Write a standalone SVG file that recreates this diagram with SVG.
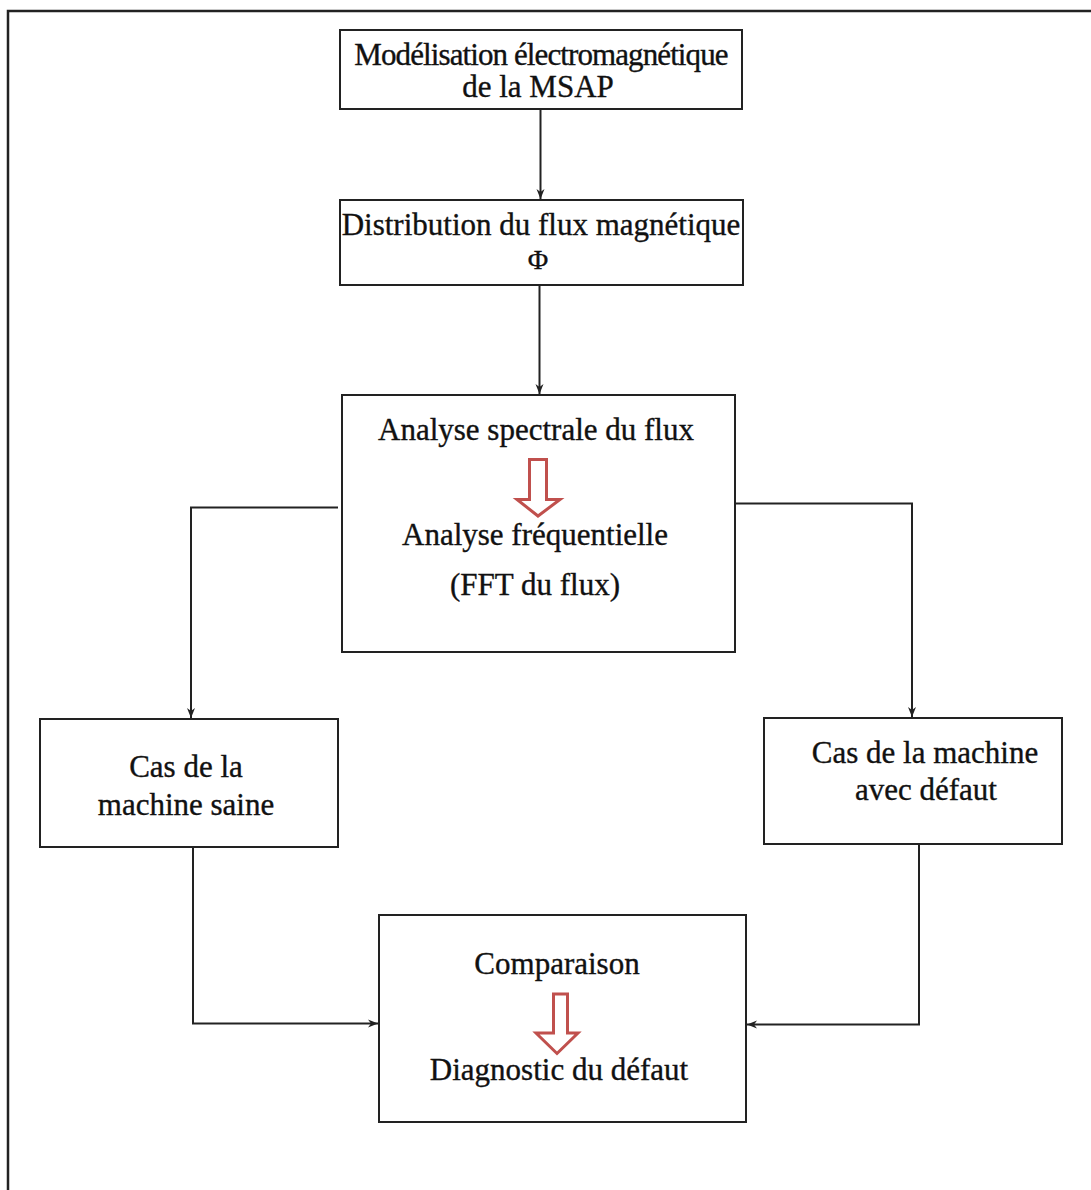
<svg xmlns="http://www.w3.org/2000/svg" width="1091" height="1190" viewBox="0 0 1091 1190">
  <style>
    .box { fill: #ffffff; stroke: #222222; stroke-width: 2; }
    .txt { font-family: "Liberation Serif", "Times New Roman", serif; font-size: 31px; fill: #111111; stroke: #111111; stroke-width: 0.35; text-anchor: middle; }
    .conn { fill: none; stroke: #222222; stroke-width: 2; }
    .red { fill: #ffffff; stroke: #C0504D; stroke-width: 3; stroke-linejoin: miter; }
  </style>
  <defs>
    <marker id="arr" viewBox="0 0 10 10" refX="10" refY="5" markerWidth="10" markerHeight="10" markerUnits="userSpaceOnUse" orient="auto">
      <path d="M0,1 L10,5 L0,9 L3,5 Z" fill="#222222"/>
    </marker>
  </defs>
  <rect width="1091" height="1190" fill="#ffffff"/>
  <rect id="frame" x="8" y="11" width="1100" height="1200" fill="none" stroke="#222222" stroke-width="2.5"/>

  <g id="connectors">
    <line class="conn" x1="540.5" y1="109" x2="540.5" y2="199" marker-end="url(#arr)"/>
    <line class="conn" x1="539.5" y1="285" x2="539.5" y2="394" marker-end="url(#arr)"/>
    <polyline class="conn" points="338,507.5 191,507.5 191,718" marker-end="url(#arr)"/>
    <polyline class="conn" points="735,503.5 912,503.5 912,717" marker-end="url(#arr)"/>
    <polyline class="conn" points="193,847 193,1023.5 378,1023.5" marker-end="url(#arr)"/>
    <polyline class="conn" points="919,844 919,1024.5 747,1024.5" marker-end="url(#arr)"/>
  </g>

  <g id="node-modelisation">
    <rect class="box" x="340" y="30" width="402" height="79"/>
    <text class="txt" x="541" y="65" letter-spacing="-0.9">Modélisation électromagnétique</text>
    <text class="txt" x="538" y="97">de la MSAP</text>
  </g>

  <g id="node-distribution">
    <rect class="box" x="340" y="200" width="403" height="85"/>
    <text class="txt" x="541" y="235">Distribution du flux magnétique</text>
    <text class="txt" x="538" y="269" style="font-size:28px">Φ</text>
  </g>

  <g id="node-analyse">
    <rect class="box" x="342" y="395" width="393" height="257"/>
    <text class="txt" x="536" y="440">Analyse spectrale du flux</text>
    <polygon class="red" points="529.5,459.5 546.5,459.5 546.5,499.5 560,499.5 538,516 517,499.5 529.5,499.5"/>
    <text class="txt" x="535" y="545">Analyse fréquentielle</text>
    <text class="txt" x="535" y="595">(FFT du flux)</text>
  </g>

  <g id="node-saine">
    <rect class="box" x="40" y="719" width="298" height="128"/>
    <text class="txt" x="186" y="777">Cas de la</text>
    <text class="txt" x="186" y="815">machine saine</text>
  </g>

  <g id="node-defaut">
    <rect class="box" x="764" y="718" width="298" height="126"/>
    <text class="txt" x="925" y="763">Cas de la machine</text>
    <text class="txt" x="926" y="800">avec défaut</text>
  </g>

  <g id="node-comparaison">
    <rect class="box" x="379" y="915" width="367" height="207"/>
    <text class="txt" x="557" y="974">Comparaison</text>
    <polygon class="red" points="553.5,994 567.5,994 567.5,1033 578,1033 557,1053.5 536,1033 553.5,1033"/>
    <text class="txt" x="559" y="1080">Diagnostic du défaut</text>
  </g>
</svg>
